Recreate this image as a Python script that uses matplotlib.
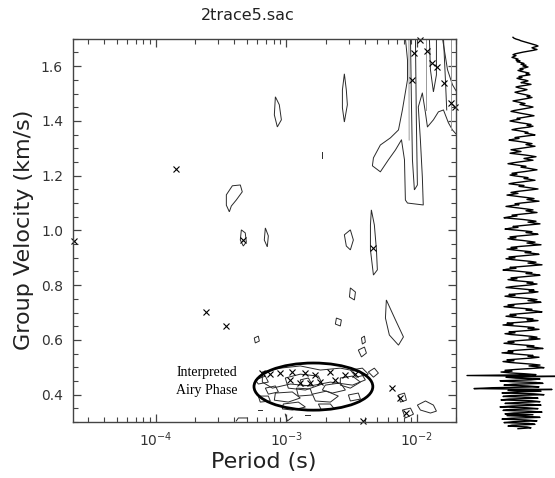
import numpy as np
import matplotlib
matplotlib.use("Agg")
from matplotlib import pyplot as plt
from matplotlib.patches import Ellipse
from matplotlib.ticker import MultipleLocator, LogLocator

# picked maxima: log10(period / s) and group velocity (km/s)
pick_logT = [-4.63, -3.844, -3.330, -3.614, -3.460, -2.332,
             -1.973, -2.019, -1.919, -1.881, -1.843, -2.035, -1.789, -1.735, -1.705,
             -2.191, -2.127, -2.081, -2.410,
             -3.184, -3.123, -3.046, -2.954, -2.854, -2.777, -2.662, -2.547, -2.470,
             -2.893, -2.816, -2.739, -2.969, -2.624]
pick_v = [0.96, 1.225, 0.965, 0.702, 0.651, 0.936,
          1.696, 1.649, 1.656, 1.612, 1.598, 1.550, 1.539, 1.466, 1.451,
          0.424, 0.388, 0.333, 0.304,
          0.479, 0.475, 0.479, 0.483, 0.479, 0.472, 0.483, 0.472, 0.475,
          0.443, 0.443, 0.446, 0.454, 0.454]

# energy contours (log10 period, velocity)
ridge_logT = [-2.087, -2.071, -2.071, -2.110, -2.140, -2.202, -2.279, -2.332, -2.340, -2.279,
              -2.217, -2.163, -2.117, -2.094, -2.087, -2.071, -1.950, -1.957, -1.972, -1.988,
              -1.957, -1.933, -1.918, -1.872, -1.834, -1.795, -1.757, -1.726, -1.680]
ridge_v = [1.703, 1.623, 1.550, 1.440, 1.367, 1.338, 1.312, 1.265, 1.236, 1.214,
           1.258, 1.294, 1.331, 1.258, 1.111, 1.100, 1.093, 1.195, 1.331, 1.451,
           1.502, 1.429, 1.378, 1.404, 1.433, 1.440, 1.393, 1.367, 1.342]
ridge_edge_logT = [-1.803, -1.764, -1.726, -1.680]
ridge_edge_v = [1.703, 1.587, 1.532, 1.495]
ridge_core_logT = [-2.048, -2.041, -2.033, -2.018, -1.995, -2.003, -2.010]
ridge_core_v = [1.703, 1.477, 1.258, 1.148, 1.166, 1.404, 1.703]
ridge_b_logT = [-1.903, -1.895, -1.872, -1.849, -1.849]
ridge_b_v = [1.703, 1.587, 1.506, 1.568, 1.703]
ridge_c_logT = [-1.795, -1.780, -1.770]
ridge_c_v = [1.703, 1.550, 1.440]
ridge_d_logT = [-1.926, -1.926]
ridge_d_v = [1.703, 1.440]
ridge_e_logT = [-1.741, -1.741]
ridge_e_v = [1.703, 1.367]
ridge_f_logT = [-2.060, -2.058]
ridge_f_v = [1.703, 1.330]

lens_logT = [-2.555, -2.540, -2.532, -2.555, -2.570, -2.570]
lens_v = [1.572, 1.513, 1.459, 1.396, 1.448, 1.513]
spot1_logT = [-3.084, -3.054, -3.038, -3.069, -3.092]
spot1_v = [1.488, 1.459, 1.404, 1.378, 1.422]
spot2_logT = [-3.460, -3.414, -3.353, -3.338, -3.384, -3.422, -3.437, -3.460]
spot2_v = [1.130, 1.163, 1.166, 1.141, 1.111, 1.089, 1.068, 1.092]
spot3_logT = [-3.345, -3.315, -3.307, -3.330, -3.353]
spot3_v = [1.002, 0.991, 0.958, 0.943, 0.965]
spot4_logT = [-3.161, -3.138, -3.146, -3.169]
spot4_v = [1.009, 0.980, 0.940, 0.965]
spot5_logT = [-2.555, -2.509, -2.486, -2.509, -2.540]
spot5_v = [0.984, 1.002, 0.965, 0.929, 0.943]
spot6_logT = [-2.348, -2.325, -2.309, -2.302, -2.332, -2.355, -2.355]
spot6_v = [1.075, 1.020, 0.929, 0.856, 0.837, 0.929, 1.020]
spot7_logT = [-2.233, -2.163, -2.102, -2.140, -2.210, -2.240]
spot7_v = [0.746, 0.673, 0.611, 0.581, 0.618, 0.680]
spot8_logT = [-2.509, -2.470, -2.478, -2.516]
spot8_v = [0.790, 0.775, 0.746, 0.757]
spot9_logT = [-2.616, -2.578, -2.586, -2.624]
spot9_v = [0.680, 0.673, 0.651, 0.658]
spot10_logT = [-2.448, -2.401, -2.386, -2.424]
spot10_v = [0.563, 0.574, 0.552, 0.538]
spot11_logT = [-2.371, -2.325, -2.294, -2.332]
spot11_v = [0.483, 0.497, 0.479, 0.464]
spot12_logT = [-2.424, -2.401, -2.394, -2.417]
spot12_v = [0.607, 0.614, 0.592, 0.585]
spot13_logT = [-1.995, -1.933, -1.872, -1.849, -1.895, -1.972]
spot13_v = [0.362, 0.377, 0.362, 0.340, 0.333, 0.344]
spot14_logT = [-2.140, -2.094, -2.079, -2.125]
spot14_v = [0.399, 0.406, 0.380, 0.373]
spot15_logT = [-2.110, -2.048, -2.025, -2.087]
spot15_v = [0.344, 0.351, 0.329, 0.315]
spot16_logT = [-3.246, -3.215, -3.207, -3.238]
spot16_v = [0.607, 0.614, 0.596, 0.589]

airy1_logT = [-3.184, -3.046, -2.893, -2.739, -2.586, -2.432, -2.394, -2.493, -2.662, -2.816,
              -2.969, -3.107, -3.184]
airy1_v = [0.483, 0.497, 0.505, 0.490, 0.497, 0.483, 0.454, 0.435, 0.446, 0.432,
           0.439, 0.424, 0.446]
airy2_logT = [-3.008, -2.893, -2.754, -2.724, -2.854, -2.985]
airy2_v = [0.461, 0.475, 0.468, 0.439, 0.417, 0.424]
airy3_logT = [-3.084, -2.954, -2.893, -2.985, -3.092]
airy3_v = [0.406, 0.410, 0.388, 0.373, 0.380]
airy4_logT = [-2.800, -2.693, -2.601, -2.662, -2.777]
airy4_v = [0.402, 0.413, 0.395, 0.373, 0.377]
airy5_logT = [-2.586, -2.493, -2.432, -2.509, -2.586]
airy5_v = [0.461, 0.468, 0.446, 0.424, 0.435]
airy6_logT = [-3.023, -2.908, -2.854, -2.954, -3.031]
airy6_v = [0.366, 0.373, 0.355, 0.344, 0.348]
airy7_logT = [-3.161, -3.084, -3.061, -3.138]
airy7_v = [0.424, 0.432, 0.410, 0.402]
airy8_logT = [-2.754, -2.662, -2.632, -2.731]
airy8_v = [0.366, 0.366, 0.348, 0.344]
airy9_logT = [-2.524, -2.448, -2.432, -2.509]
airy9_v = [0.399, 0.406, 0.384, 0.377]
airy10_logT = [-2.893, -2.831, -2.800, -2.877]
airy10_v = [0.454, 0.461, 0.435, 0.432]
airy11_logT = [-3.238, -3.161, -3.138, -3.215]
airy11_v = [0.454, 0.468, 0.446, 0.439]
airy12_logT = [-2.701, -2.586, -2.547, -2.647, -2.724]
airy12_v = [0.435, 0.443, 0.417, 0.406, 0.417]
airy13_logT = [-2.923, -2.816, -2.800, -2.908]
airy13_v = [0.424, 0.421, 0.399, 0.395]
airy14_logT = [-2.509, -2.417, -2.371, -2.463]
airy14_v = [0.490, 0.497, 0.475, 0.464]
airy15_logT = [-3.215, -3.138, -3.123, -3.200]
airy15_v = [0.395, 0.395, 0.377, 0.373]

frag1_logT = [-3.384, -3.368, -3.299]
frag1_v = [0.304, 0.315, 0.315]
frag2_logT = [-3.215, -3.184]
frag2_v = [0.344, 0.344]
frag3_logT = [-3.008, -2.992, -2.954]
frag3_v = [0.329, 0.304, 0.318]
frag4_logT = [-2.854, -2.816]
frag4_v = [0.326, 0.326]
frag5_logT = [-2.724, -2.724]
frag5_v = [1.287, 1.265]

# trace amplitude (counts), one value per sample, time runs downward
trace = [
    -9, -8, -6, -3, -1, 2, 5, 8, 11, 14, 16, 13, 10, 12, 15, 11, 6, 1, -3, -7, -9, -6, -8, -10, -7, -4, -6, -2, -5, -1,
    2, -1, 4, 1, 6, 3, -2, 1, -4, -1, 3, 7, 4, 8, 2, -3, 0, -5, -2, 3, 6, 2, -1, 5, 9, 4, -2, -6, -3, 1,
    5, 2, -3, -7, -4, 0, 4, 8, 5, 10, 6, 1, -4, -9, -5, -1, 3, -2, 2, 7, 11, 7, 2, -3, -8, -11, -6, -2, 3, 8,
    12, 6, 1, -5, -2, -8, -12, -7, -2, 4, 9, 5, 11, 7, 0, -6, -10, -4, 1, 6, 3, 9, 13, 6, -1, -7, -3, -9, -13, -6,
    0, 5, 10, 4, 8, 13, 7, 1, -5, -11, -6, -1, -7, -12, -4, 3, 9, 14, 8, 2, 6, 11, 4, -3, -9, -14, -8, -2, 4, -1,
    5, 10, 15, 9, 3, -4, -10, -5, -12, -7, 0, 6, 2, 8, 13, 6, -1, -8, -13, -6, 2, -3, 4, 10, 16, 9, 1, -6, -11, -4,
    -9, -15, -8, -1, 6, 12, 5, 10, 17, 8, 0, -7, -3, -10, -16, -9, -2, 5, 11, 4, 9, 15, 7, -2, -10, -5, -13, -18, -8, 1,
    8, 14, 6, 12, 18, 9, -1, -9, -4, -12, -17, -7, 2, 10, 4, 11, 16, 6, -4, -12, -6, -14, -9, 0, 7, 13, 5, 11, 19, 8,
    -3, -11, -5, -15, -8, 1, 9, 3, 12, 17, 7, -4, -13, -7, -16, -10, -1, 8, 14, 6, 13, 20, 9, -2, -12, -6, -15, -19, -7, 2,
    10, 4, 13, 18, 8, -3, -11, -5, -14, -8, 2, 11, 5, 15, 9, -1, -10, -16, -6, 3, 12, 7, 16, 10, -2, -13, -7, -17, -11, 0,
    9, 15, 6, 13, 19, 7, -5, -14, -8, -18, -10, 1, 10, 4, 14, 20, 9, -3, -12, -6, -16, -9, 2, 11, 5, 16, 8, -4, -15, -9,
    -19, -8, 3, 12, 6, 17, 10, -2, -13, -7, -17, -11, 0, 9, 15, 7, 18, 8, -4, -14, -8, -18, -9, 2, 12, 5, 15, 21, 7, -5,
    -14, -9, -20, -10, 1, 11, 6, 17, 9, -3, -15, -8, -19, -12, -1, 10, 18, 7, 16, 22, 8, -6, -17, -10, -21, -12, 3, 14, -55, 33,
    -16, -6, 18, 9, -22, -12, 14, 21, -9, -18, 6, 17, -30, -48, 30, -14, 19, -8, -20, 12, 22, -11, -19, 7, 16, -13, -21, 10, 18, -6,
    -17, 8, 19, -10, -22, 5, 16, -12, -19, 9, 20, -8, -17, 11, -15, 6, 18, -11, -20, 4, 15, -9, -18, 7, 13, -10, -14, 5, 9, -4,
]

closed_loops = [
    (ridge_core_logT, ridge_core_v), (ridge_b_logT, ridge_b_v),
    (lens_logT, lens_v), (spot1_logT, spot1_v), (spot2_logT, spot2_v),
    (spot3_logT, spot3_v), (spot4_logT, spot4_v), (spot5_logT, spot5_v),
    (spot6_logT, spot6_v), (spot7_logT, spot7_v), (spot8_logT, spot8_v),
    (spot9_logT, spot9_v), (spot10_logT, spot10_v), (spot11_logT, spot11_v),
    (spot12_logT, spot12_v), (spot13_logT, spot13_v), (spot14_logT, spot14_v),
    (spot15_logT, spot15_v), (spot16_logT, spot16_v),
    (airy1_logT, airy1_v), (airy2_logT, airy2_v), (airy3_logT, airy3_v),
    (airy4_logT, airy4_v), (airy5_logT, airy5_v), (airy6_logT, airy6_v),
    (airy7_logT, airy7_v), (airy8_logT, airy8_v), (airy9_logT, airy9_v),
    (airy10_logT, airy10_v), (airy11_logT, airy11_v), (airy12_logT, airy12_v),
    (airy13_logT, airy13_v), (airy14_logT, airy14_v), (airy15_logT, airy15_v),
]
open_lines = [
    (ridge_logT, ridge_v), (ridge_edge_logT, ridge_edge_v), (ridge_c_logT, ridge_c_v),
    (frag1_logT, frag1_v), (frag2_logT, frag2_v), (frag3_logT, frag3_v),
    (frag4_logT, frag4_v), (frag5_logT, frag5_v),
]
faint_lines = [(ridge_d_logT, ridge_d_v), (ridge_e_logT, ridge_e_v), (ridge_f_logT, ridge_f_v)]

plt.rcParams['font.family'] = 'DejaVu Sans'
fig = plt.figure(figsize=(5.55, 4.78), dpi=100)
ax = fig.add_axes([0.131, 0.117, 0.6906, 0.8019])

line_col = '#2a2a2a'
for lt, v in closed_loops:
    ax.fill(10 ** np.array(lt), v, fill=False, ec=line_col, lw=0.7)
for lt, v in open_lines:
    ax.plot(10 ** np.array(lt), v, color=line_col, lw=0.7)
for lt, v in faint_lines:
    ax.plot(10 ** np.array(lt), v, color='#999', lw=0.7)

ax.plot(10 ** np.array(pick_logT), pick_v, 'x', color='black', ms=4.5, mew=0.8,
        clip_on=False)

ax.add_patch(Ellipse((0.628, 0.0926), 0.310, 0.123, transform=ax.transAxes,
                     fill=False, ec='black', lw=2.0))
ax.text(0.350, 0.106, 'Interpreted\nAiry Phase', transform=ax.transAxes,
        ha='center', va='center', fontsize=10, family='Liberation Serif',
        linespacing=1.45)

ax.set_xscale('log')
ax.set_xlim(2.3e-5, 2.0e-2)
ax.set_ylim(0.3, 1.7)
ax.yaxis.set_major_locator(MultipleLocator(0.2))
ax.yaxis.set_minor_locator(MultipleLocator(0.05))
ax.xaxis.set_major_locator(LogLocator(base=10))
ax.xaxis.set_minor_locator(LogLocator(base=10, subs=np.arange(2, 10)))

ax.tick_params(which='both', direction='in', top=True, right=True,
               color='#444', labelcolor='#333', labelsize=10)
ax.tick_params(which='major', length=6, width=0.9)
ax.tick_params(which='minor', length=3.6, width=0.8)
ax.tick_params(axis='y', pad=7)
ax.tick_params(axis='x', pad=6)
for s in ax.spines.values():
    s.set_color('#444')
    s.set_linewidth(1.0)

fig.text(248 / 555, 1 - 15 / 478, '2trace5.sac', ha='center', va='center',
         fontsize=11.5, color='#222')
fig.text(24 / 555, 1 - 230 / 478, 'Group Velocity (km/s)', rotation=90,
         ha='center', va='center', fontsize=16, color='#222')
fig.text(264 / 555, 1 - 462 / 478, 'Period (s)', ha='center', va='center',
         fontsize=16, color='#222')

# seismogram drawn vertically beside the dispersion panel
tax = fig.add_axes([465 / 555, 48 / 478, 90 / 555, 394 / 478])
tax.plot(trace, np.arange(len(trace)), color='black', lw=1.0)
tax.set_ylim(len(trace) + 0.5, -1.5)
tax.set_xlim(-57, 33)
tax.axis('off')

fig.savefig('out.png', dpi=100)
